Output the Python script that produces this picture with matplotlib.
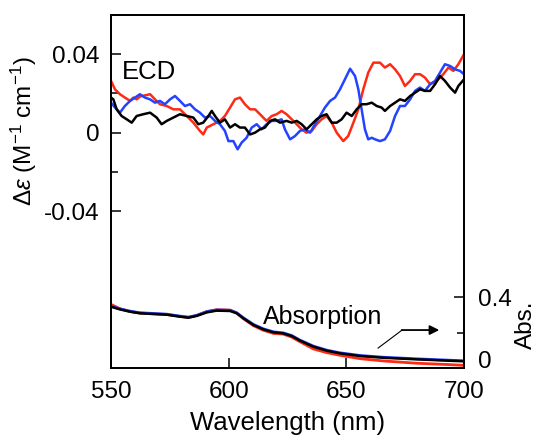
import matplotlib
matplotlib.use('Agg')
import matplotlib.pyplot as plt

plt.rcParams['font.family'] = ['Liberation Sans', 'DejaVu Sans']
plt.rcParams['mathtext.fontset'] = 'custom'
plt.rcParams['mathtext.rm'] = 'Liberation Sans'
plt.rcParams['mathtext.it'] = 'Liberation Sans:italic'

# ---------------- data ----------------
wl_red = [550, 551.7, 553.8, 555.9, 558.1, 559.5, 560.9, 562.3, 564.4, 566.6, 568.7, 570.8,
          573.7, 576.5, 579.3, 582.2, 585.0, 587.8, 589.2, 590.7, 593.5, 596.3, 598.4, 600.6,
          602.7, 604.8, 606.9, 609.1, 611.2, 613.3, 616.1, 618.3, 620.4, 622.5, 624.6, 626.8,
          628.9, 631.0, 633.1, 635.3, 637.4, 639.5, 641.6, 643.8, 645.9, 648.7, 650.8, 653.0,
          655.1, 657.2, 659.3, 661.5, 664.3, 666.4, 668.6, 670.7, 672.8, 674.9, 677.1, 679.2,
          681.3, 683.4, 685.6, 688.4, 691.2, 693.4, 695.5, 697.6, 700]
ecd_red = [0.0264, 0.0221, 0.0196, 0.0179, 0.0162, 0.0179, 0.0170, 0.0184, 0.0190, 0.0196, 0.0170, 0.0145,
           0.0136, 0.0119, 0.0119, 0.0085, 0.0051, 0.0009, -0.0009, 0.0026, 0.0043, 0.0060, 0.0085, 0.0128,
           0.0170, 0.0179, 0.0145, 0.0119, 0.0119, 0.0094, 0.0060, 0.0085, 0.0094, 0.0111, 0.0094, 0.0068,
           0.0043, 0.0017, 0.0000, 0.0009, 0.0043, 0.0068, 0.0085, 0.0051, 0.0000, -0.0043, -0.0017, 0.0051,
           0.0119, 0.0221, 0.0306, 0.0357, 0.0357, 0.0332, 0.0349, 0.0323, 0.0289, 0.0238, 0.0264, 0.0298,
           0.0298, 0.0281, 0.0247, 0.0264, 0.0298, 0.0332, 0.0315, 0.0349, 0.0400]

wl_blue = [550, 551.7, 553.8, 555.9, 558.1, 560.2, 562.3, 564.4, 566.6, 568.7, 570.8, 572.9,
           575.1, 577.2, 579.3, 581.4, 583.6, 585.7, 587.8, 589.9, 592.1, 594.2, 596.3, 598.4,
           599.9, 602.0, 603.8, 605.5, 607.6, 609.8, 611.9, 614.0, 616.1, 618.3, 620.4, 622.5,
           623.9, 626.1, 628.2, 630.3, 632.4, 634.6, 636.7, 638.8, 640.9, 643.1, 645.2, 647.3,
           649.4, 651.6, 653.7, 655.1, 656.5, 657.9, 659.3, 660.8, 662.2, 664.3, 666.4, 668.6,
           670.7, 672.8, 674.9, 677.1, 679.2, 681.3, 683.4, 685.6, 687.7, 689.8, 691.9, 694.1,
           696.2, 698.3, 700]
ecd_blue = [0.0153, 0.0128, 0.0102, 0.0136, 0.0162, 0.0179, 0.0196, 0.0179, 0.0170, 0.0153, 0.0162, 0.0145,
            0.0170, 0.0187, 0.0162, 0.0136, 0.0145, 0.0119, 0.0102, 0.0077, 0.0085, 0.0060, 0.0043, 0.0009,
            -0.0043, -0.0043, -0.0085, -0.0051, -0.0026, 0.0026, 0.0043, 0.0017, 0.0043, 0.0060, 0.0060, 0.0068,
            0.0017, -0.0034, -0.0017, 0.0009, 0.0017, 0.0000, 0.0043, 0.0085, 0.0128, 0.0162, 0.0179, 0.0221,
            0.0272, 0.0326, 0.0289, 0.0221, 0.0119, 0.0017, -0.0034, -0.0026, -0.0034, -0.0043, -0.0034, 0.0009,
            0.0085, 0.0136, 0.0136, 0.0170, 0.0213, 0.0230, 0.0213, 0.0247, 0.0264, 0.0306, 0.0349, 0.0340,
            0.0323, 0.0315, 0.0298]

wl_black = [550, 551.0, 552.4, 554.5, 556.7, 558.8, 560.9, 563.7, 566.6, 569.4, 571.5, 573.7,
            576.5, 579.3, 582.2, 585.0, 587.1, 589.2, 591.4, 592.8, 594.2, 596.3, 598.4, 600.6,
            602.7, 604.8, 606.9, 609.1, 611.2, 613.3, 615.4, 617.6, 619.7, 621.8, 624.6, 626.8,
            628.9, 631.0, 633.1, 635.3, 637.4, 639.5, 641.6, 643.8, 645.9, 648.0, 650.1, 652.3,
            654.4, 656.5, 658.6, 660.8, 662.9, 665.0, 666.4, 668.6, 670.7, 672.8, 674.9, 677.1,
            679.2, 681.3, 683.4, 685.6, 687.7, 689.8, 691.9, 694.1, 696.2, 697.6, 700]
ecd_black = [0.0179, 0.0170, 0.0119, 0.0085, 0.0068, 0.0051, 0.0085, 0.0094, 0.0102, 0.0077, 0.0043, 0.0060,
             0.0077, 0.0094, 0.0085, 0.0077, 0.0043, 0.0051, 0.0085, 0.0111, 0.0085, 0.0051, 0.0068, 0.0026,
             0.0043, 0.0026, 0.0026, -0.0009, 0.0000, 0.0017, 0.0026, 0.0060, 0.0068, 0.0051, 0.0060, 0.0051,
             0.0060, 0.0043, 0.0017, 0.0043, 0.0068, 0.0085, 0.0094, 0.0051, 0.0051, 0.0068, 0.0102, 0.0085,
             0.0119, 0.0145, 0.0145, 0.0153, 0.0136, 0.0128, 0.0111, 0.0136, 0.0153, 0.0170, 0.0162, 0.0187,
             0.0204, 0.0221, 0.0213, 0.0213, 0.0247, 0.0289, 0.0264, 0.0230, 0.0204, 0.0238, 0.0272]

wl_abs = [550, 553.8, 558.1, 562.3, 568.0, 573.7, 579.3, 582.9, 586.4, 590.7, 594.9, 600.6,
          603.4, 606.2, 610.5, 614.7, 619.0, 623.2, 626.8, 630.3, 636.0, 641.7, 647.3, 655.8,
          665.7, 679.9, 694.1, 700]
abs_black = [0.347, 0.332, 0.319, 0.310, 0.306, 0.302, 0.291, 0.285, 0.295, 0.315, 0.325, 0.323,
             0.310, 0.282, 0.244, 0.219, 0.202, 0.196, 0.181, 0.155, 0.121, 0.098, 0.083, 0.068,
             0.058, 0.049, 0.041, 0.038]
abs_blue = [0.350, 0.335, 0.322, 0.313, 0.309, 0.305, 0.294, 0.288, 0.298, 0.319, 0.329, 0.327,
            0.313, 0.285, 0.247, 0.222, 0.205, 0.199, 0.184, 0.158, 0.124, 0.101, 0.086, 0.071,
            0.061, 0.052, 0.044, 0.041]
abs_red = [0.360, 0.336, 0.320, 0.311, 0.307, 0.303, 0.292, 0.287, 0.298, 0.320, 0.330, 0.328,
           0.312, 0.280, 0.240, 0.214, 0.196, 0.192, 0.175, 0.149, 0.108, 0.087, 0.072, 0.053,
           0.040, 0.027, 0.019, 0.015]

xticks = [550, 600, 650, 700]
ecd_ticks = [-0.04, 0, 0.04]
ecd_tick_labels = ['-0.04', '0', '0.04']
ecd_minor = [-0.02, 0.02]
abs_ticks = [0, 0.4]
abs_tick_labels = ['0', '0.4']
abs_minor = [0.2]

RED = '#ff2a14'
BLUE = '#2443ff'

# ---------------- figure ----------------
fig = plt.figure(figsize=(5.42, 4.38), dpi=100)
ax = fig.add_axes([111 / 542, 1 - 368 / 438, 353 / 542, 353 / 438])
ax2 = ax.twinx()

ax.plot(wl_red, ecd_red, color=RED, lw=1.8)
ax.plot(wl_blue, ecd_blue, color=BLUE, lw=1.8)
ax.plot(wl_black, ecd_black, color='k', lw=1.8)

ax2.plot(wl_abs, abs_red, color=RED, lw=2.0)
ax2.plot(wl_abs, abs_blue, color=BLUE, lw=2.0)
ax2.plot(wl_abs, abs_black, color='k', lw=1.8)

ax.set_xlim(550, 700)
ax.set_ylim(-0.12, 0.06)
ax2.set_ylim(0, 2.0)

ax.set_xticks(xticks)
ax.set_xticklabels([str(t) for t in xticks])
ax.set_yticks(ecd_ticks)
ax.set_yticklabels(ecd_tick_labels)
ax.set_yticks(ecd_minor, minor=True)
ax2.set_yticks(abs_ticks)
ax2.set_yticklabels(abs_tick_labels)
ax2.set_yticks(abs_minor, minor=True)

ax.tick_params(axis='both', which='major', direction='in', length=7, width=1.1,
               labelsize=17.5, pad=8)
ax.tick_params(axis='y', which='minor', direction='in', length=5, width=1.1)
ax.tick_params(axis='x', which='major', pad=9)
ax2.tick_params(axis='y', which='major', direction='in', length=7, width=1.1,
                labelsize=17.5, pad=10)
ax2.tick_params(axis='y', which='minor', direction='in', length=5, width=1.1)

for a in (ax, ax2):
    for s in a.spines.values():
        s.set_linewidth(1.3)

ax2.yaxis.get_major_ticks()[0].label2.set_va('baseline')

ax.set_xlabel('Wavelength (nm)', fontsize=18.5, labelpad=6)
ax.set_ylabel(r'$\mathit{\Delta\varepsilon}$ (M$^{-1}$ cm$^{-1}$)', fontsize=17.5)
ax.yaxis.set_label_coords(-0.205, 0.671)
ax2.set_ylabel('Abs.', fontsize=17.5)
ax2.yaxis.set_label_coords(1.143, 0.122)

ax.text(554.7, 0.031, 'ECD', fontsize=18.5, va='center', ha='left')
ax2.text(614.6, 0.29, 'Absorption', fontsize=18, va='center', ha='left')
ax2.plot([663.5, 673.7], [0.113, 0.215], color='k', lw=0.8)
ax2.annotate('', xy=(689.5, 0.215), xytext=(673.5, 0.215),
             arrowprops=dict(arrowstyle='-|>', color='k', lw=1.3, mutation_scale=14,
                             shrinkA=0, shrinkB=0))

fig.savefig('out.png', dpi=100)
